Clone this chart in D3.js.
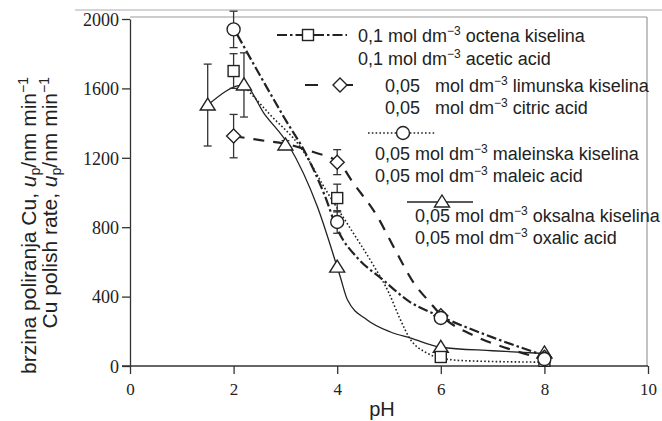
<!DOCTYPE html>
<html>
<head>
<meta charset="utf-8">
<script src="https://cdn.jsdelivr.net/npm/d3@7"></script>
<style>
  body { margin: 0; background: #fff; }
  text { fill: #222; }
</style>
</head>
<body>
<svg id="chart"></svg>
<script>
// measured points: pH, polish rate, error
const aceticPh = [2, 4, 6, 8];
const aceticRate = [1700, 968, 52, 30];
const aceticErr = [100, 80, 0, 0];

const citricPh = [2, 4, 6, 8];
const citricRate = [1325, 1175, 290, 50];
const citricErr = [125, 72, 0, 0];

const maleicPh = [2, 4, 6, 8];
const maleicRate = [1940, 830, 277, 40];
const maleicErr = [105, 65, 0, 0];

const oxalicPh = [1.5, 2.2, 3, 4, 6, 8];
const oxalicRate = [1504, 1620, 1274, 570, 108, 75];
const oxalicErr = [236, 185, 25, 0, 0, 0];

// fitted curves as drawn
const aceticFitPh = [2.07, 2.5, 3, 3.4, 3.75, 4, 4.4, 4.85, 5.4, 6, 7, 8];
const aceticFitRate = [1910, 1680, 1420, 1220, 990, 790, 620, 505, 370, 285, 165, 60];

const citricFitPh = [2, 2.51, 3.1, 3.54, 4.02, 4.31, 4.78, 5.09, 5.48, 5.8, 6, 6.7, 7.3, 8];
const citricFitRate = [1325, 1302, 1274, 1233, 1175, 1055, 859, 686, 478, 363, 295, 167, 100, 40];

const maleicFitPh = [2.22, 2.7, 3.29, 3.81, 4.26, 4.7, 5.0, 5.2, 5.42, 5.7, 6, 6.5, 8];
const maleicFitRate = [1608, 1450, 1262, 1000, 790, 580, 420, 280, 150, 80, 45, 30, 22];

const oxalicFitPh = [1.5, 2.2, 2.6, 3.06, 3.62, 4, 4.06, 4.2, 4.58, 5.03, 5.42, 6, 7, 8];
const oxalicFitRate = [1504, 1620, 1450, 1274, 916, 570, 513, 380, 265, 196, 161, 108, 88, 72];

const xTicks = [0, 2, 4, 6, 8, 10];
const yTicks = [0, 400, 800, 1200, 1600, 2000];

const width = 662, height = 421;
const svg = d3.select("#chart").attr("width", width).attr("height", height);

const x = d3.scaleLinear().domain([0, 10]).range([130, 648]);
const y = d3.scaleLinear().domain([0, 2000]).range([366, 19]);

const ink = "#222";

// frame (scan edges)
svg.append("line").attr("x1", 75).attr("x2", 662).attr("y1", 10).attr("y2", 10)
    .attr("stroke", "#aaa").attr("stroke-width", 1);
svg.append("line").attr("x1", 130).attr("x2", 647).attr("y1", 17).attr("y2", 17)
    .attr("stroke", "#999").attr("stroke-width", 1.2);
svg.append("line").attr("x1", 647).attr("x2", 647).attr("y1", 17).attr("y2", 366)
    .attr("stroke", "#999").attr("stroke-width", 1.2);

// axes
const gx = svg.append("g").attr("transform", `translate(0,${y(0)})`)
    .call(d3.axisBottom(x).tickValues(xTicks).tickSize(8).tickSizeOuter(0).tickFormat(d3.format("d")));
const gy = svg.append("g").attr("transform", `translate(${x(0)},0)`)
    .call(d3.axisLeft(y).tickValues(yTicks).tickSize(8).tickSizeOuter(0).tickFormat(d3.format("d")));
[gx, gy].forEach(g => {
  g.selectAll("path, line").attr("stroke", "#333").attr("stroke-width", 1.3);
  g.selectAll("text").attr("font-family", "Liberation Serif, serif").attr("fill", ink);
});
gx.select(".domain").attr("d", `M${x(0) - 8},0H${x(10)}`);
gx.selectAll("text").attr("font-size", 17).attr("dy", "1.05em");
gy.selectAll("text").attr("font-size", 18).attr("dy", "0.35em").attr("x", -11);

// axis titles
svg.append("text").attr("x", 382).attr("y", 416).attr("text-anchor", "middle")
    .attr("font-family", "Liberation Sans, Arial, sans-serif").attr("font-size", 20).text("pH");

function yTitle(xPos, label) {
  const t = svg.append("text")
      .attr("transform", `translate(${xPos},77) rotate(-90)`)
      .attr("text-anchor", "end")
      .attr("font-family", "Liberation Sans, Arial, sans-serif").attr("font-size", 21);
  t.append("tspan").text(label);
  t.append("tspan").attr("font-style", "italic").text("u");
  t.append("tspan").attr("font-size", 14).attr("dy", 4).text("p");
  t.append("tspan").attr("dy", -4).text("/nm min");
  t.append("tspan").attr("font-size", 14).attr("dy", -8).text("\u22121");
}
yTitle(36, "brzina poliranja Cu, ");
yTitle(57, "Cu polish rate, ");

// fit lines
const line = d3.line().x(d => x(d[0])).y(d => y(d[1])).curve(d3.curveMonotoneX);
const series = [
  { ph: aceticFitPh, rate: aceticFitRate, dash: "10,3,2.5,3", w: 2.2 },
  { ph: citricFitPh, rate: citricFitRate, dash: "11,9", w: 2.2 },
  { ph: maleicFitPh, rate: maleicFitRate, dash: "1.6,2.2", w: 1.6 },
  { ph: oxalicFitPh, rate: oxalicFitRate, dash: null, w: 1.3 }
];
series.forEach(s => {
  svg.append("path")
      .attr("d", line(d3.zip(s.ph, s.rate)))
      .attr("fill", "none").attr("stroke", ink)
      .attr("stroke-width", s.w)
      .attr("stroke-dasharray", s.dash);
});

// marker shapes
function drawMarker(g, shape, cx, cy) {
  const st = { fill: "#fff", stroke: ink, "stroke-width": 1.4 };
  let el;
  if (shape === "square") {
    el = g.append("rect").attr("x", cx - 5.5).attr("y", cy - 5.5).attr("width", 11).attr("height", 11);
  } else if (shape === "diamond") {
    el = g.append("path").attr("d", `M${cx},${cy - 7}L${cx + 7},${cy}L${cx},${cy + 7}L${cx - 7},${cy}Z`);
  } else if (shape === "circle") {
    el = g.append("circle").attr("cx", cx).attr("cy", cy).attr("r", 6.5);
  } else {
    el = g.append("path").attr("d", `M${cx},${cy - 7}L${cx + 7.5},${cy + 5}L${cx - 7.5},${cy + 5}Z`);
  }
  Object.entries(st).forEach(([k, v]) => el.attr(k, v));
}

// error bars + points
const points = [
  { ph: oxalicPh, rate: oxalicRate, err: oxalicErr, shape: "triangle" },
  { ph: citricPh, rate: citricRate, err: citricErr, shape: "diamond" },
  { ph: aceticPh, rate: aceticRate, err: aceticErr, shape: "square" },
  { ph: maleicPh, rate: maleicRate, err: maleicErr, shape: "circle" }
];
const gErr = svg.append("g").attr("stroke", "#333").attr("stroke-width", 1.3);
const gPts = svg.append("g");
points.forEach(s => {
  s.ph.forEach((p, i) => {
    const e = s.err[i];
    if (e > 0) {
      const top = y(s.rate[i] + e), bot = y(s.rate[i] - e), cx = x(p);
      gErr.append("line").attr("x1", cx).attr("x2", cx).attr("y1", top).attr("y2", bot);
      gErr.append("line").attr("x1", cx - 4).attr("x2", cx + 4).attr("y1", top).attr("y2", top);
      gErr.append("line").attr("x1", cx - 4).attr("x2", cx + 4).attr("y1", bot).attr("y2", bot);
    }
    drawMarker(gPts, s.shape, x(p), y(s.rate[i]));
  });
});

// legend
const legend = [
  { x1: 277, x2: 347, mx: 308, my: 35, dash: "10,3,2.5,3", w: 2.2, shape: "square",
    tx: 358, ty: [42, 65], lines: ["0,1 mol dm|octena kiselina", "0,1 mol dm|acetic acid"] },
  { x1: 305, x2: 372, mx: 340, my: 85, dash: "13,22", w: 2.2, shape: "diamond",
    tx: 385, ty: [92, 114], lines: ["0,05   mol dm|limunska kiselina", "0,05   mol dm|citric acid"] },
  { x1: 368, x2: 435, mx: 403, my: 133, dash: "1.6,2.2", w: 1.6, shape: "circle",
    tx: 375, ty: [160, 182], lines: ["0,05 mol dm|maleinska kiselina", "0,05 mol dm|maleic acid"] },
  { x1: 407, x2: 473, mx: 442, my: 202, dash: null, w: 1.3, shape: "triangle",
    tx: 415, ty: [222, 244], lines: ["0,05 mol dm|oksalna kiselina", "0,05 mol dm|oxalic acid"] }
];
legend.forEach(l => {
  svg.append("line").attr("x1", l.x1).attr("x2", l.x2).attr("y1", l.my).attr("y2", l.my)
      .attr("stroke", ink).attr("stroke-width", l.w).attr("stroke-dasharray", l.dash);
  drawMarker(svg, l.shape, l.mx, l.my);
  l.lines.forEach((s, i) => {
    const [a, b] = s.split("|");
    const t = svg.append("text").attr("x", l.tx).attr("y", l.ty[i])
        .attr("font-family", "Liberation Sans, Arial, sans-serif").attr("font-size", 18)
        .style("white-space", "pre");
    t.append("tspan").text(a);
    t.append("tspan").attr("font-size", 12).attr("dy", -7).text("\u22123");
    t.append("tspan").attr("dy", 7).text(" " + b);
  });
});
</script>
</body>
</html>
